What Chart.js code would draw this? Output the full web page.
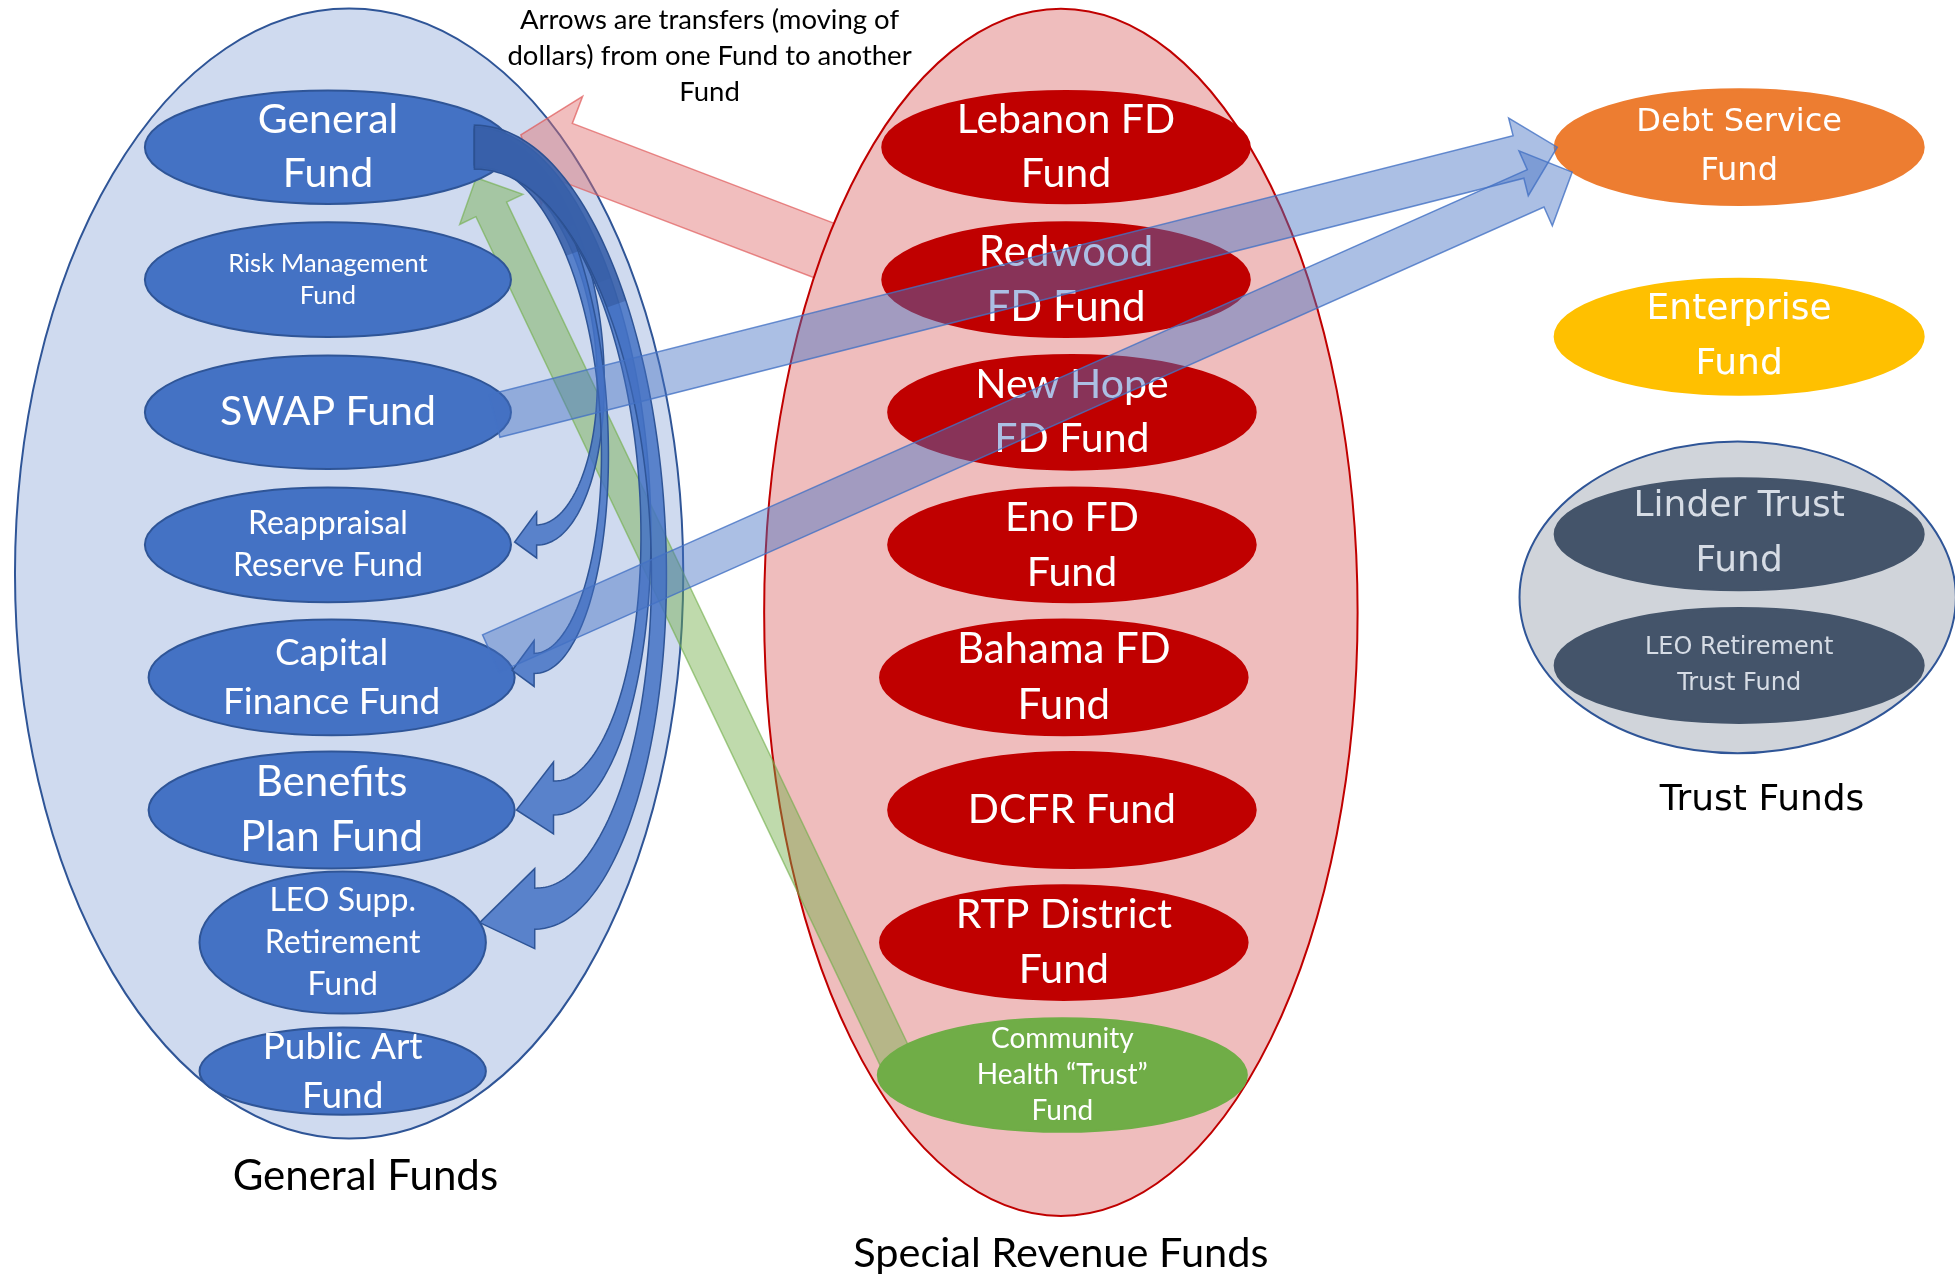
<!DOCTYPE html>
<html>
<head>
<meta charset="utf-8">
<script src="https://cdn.jsdelivr.net/npm/chart.js@4.4.0/dist/chart.umd.min.js"></script>
<style>
  html, body { margin: 0; padding: 0; background: #ffffff; }
  #wrap { width: 1955px; height: 1277px; }
</style>
</head>
<body>
<div id="wrap"><canvas id="funds-chart"></canvas></div>
<script>
// funds as drawn on the slide (\n = line break)
var fundNames = [
  'General\nFund', 'Risk Management\nFund', 'SWAP Fund', 'Reappraisal\nReserve Fund',
  'Capital\nFinance Fund', 'Benefits\nPlan Fund', 'LEO Supp.\nRetirement\nFund', 'Public Art\nFund',
  'Lebanon FD\nFund', 'Redwood\nFD Fund', 'New Hope\nFD Fund', 'Eno FD\nFund',
  'Bahama FD\nFund', 'DCFR Fund', 'RTP District\nFund', 'Community\nHealth \u201CTrust\u201D\nFund',
  'Debt Service\nFund', 'Enterprise\nFund', 'Linder Trust\nFund', 'LEO Retirement\nTrust Fund'
];
var fundType = [
  'general', 'general', 'general', 'general', 'general', 'general', 'general', 'general',
  'special', 'special', 'special', 'special', 'special', 'special', 'special', 'health',
  'debt', 'enterprise', 'trust', 'trust'
];
// column (0 = general, 1 = special revenue, ~1.9 = others) and row in the column
var fundColumn = [0, 0, 0, 0, 0.005, 0.005, 0.02, 0.02,
  1, 1, 1.008, 1.008, 0.997, 1.008, 0.997, 0.995,
  1.912, 1.912, 1.912, 1.912];
var fundRow = [1, 2, 3, 4, 5, 6, 7, 7.97,
  1, 2, 3, 4, 5, 6, 7, 8,
  1, 2.43, 3.92, 4.91];

var groupNames = ['General Funds', 'Special Revenue Funds', 'Trust Funds'];
var groupColumn = [0.0287, 0.993, 1.91];
var groupRow = [4.217, 4.509, 4.396];

// transfers (index into fundNames)
var transferFrom = [9, 2, 4, 15, 0, 0, 0, 0];
var transferTo = [0, 16, 16, 0, 3, 4, 5, 6];

var noteLines = ['Arrows are transfers (moving of', 'dollars) from one Fund to another', 'Fund'];

// ---- layout / style ----
var typeStyle = {
  general: { fill: '#4472C4', stroke: '#2F5597', text: '#ffffff', font: 'Lato' },
  special: { fill: '#C00000', stroke: '#C00000', text: '#ffffff', font: 'Lato' },
  health: { fill: '#70AD47', stroke: '#70AD47', text: '#ffffff', font: 'Lato' },
  debt: { fill: '#ED7D31', stroke: '#ED7D31', text: '#ffffff', font: 'DejaVu Sans' },
  enterprise: { fill: '#FFC000', stroke: '#FFC000', text: '#ffffff', font: 'DejaVu Sans' },
  trust: { fill: '#44546A', stroke: '#44546A', text: '#D6DCE5', font: 'DejaVu Sans' }
};
// rx (column units), ry (row units), font px, line height px
var nodeSize = [
  [0.248, 0.428, 41, 54], [0.248, 0.433, 25.5, 32], [0.248, 0.428, 41, 54], [0.248, 0.433, 32, 42],
  [0.248, 0.437, 37, 49], [0.248, 0.442, 42, 55], [0.194, 0.536, 32, 42], [0.194, 0.329, 37, 49],
  [0.249, 0.423, 41, 54], [0.249, 0.433, 42, 55], [0.249, 0.433, 41, 54], [0.249, 0.433, 41, 55],
  [0.249, 0.437, 42, 56], [0.249, 0.437, 41, 54], [0.249, 0.433, 41, 55], [0.25, 0.428, 28, 36],
  [0.25, 0.437, 32, 49], [0.25, 0.437, 36, 55], [0.25, 0.423, 36, 55], [0.25, 0.433, 24, 36]
];
var groupStyle = [
  { rx: 0.4527, ry: 4.262, fill: '#CFDAEF', stroke: '#2F5597', font: 'Lato', size: 42, col: 0.0507, row: 8.761 },
  { rx: 0.402, ry: 4.553, fill: '#EFBDBD', stroke: '#C00000', font: 'Lato', size: 41.5, col: 0.993, row: 9.344 },
  { rx: 0.2956, ry: 1.176, fill: '#D0D4DA', stroke: '#2F5597', font: 'DejaVu Sans', size: 36, col: 1.943, row: 5.929 }
];
var arrowStyle = [
  { kind: 'line', tail: [-0.9, 0], tip: [1.054, -0.217], w: 58, hw: 116, hl: 44,
    fill: 'rgba(224,110,110,0.45)', stroke: 'rgba(224,90,90,0.7)' },
  { kind: 'line', tail: [0.91, 0.065], tip: [-0.986, 0], w: 44, hw: 80, hl: 40,
    fill: 'rgba(68,114,196,0.45)', stroke: 'rgba(68,114,196,0.8)' },
  { kind: 'line', tail: [0.87, -0.41], tip: [-0.905, 0.43], w: 41, hw: 82, hl: 40,
    fill: 'rgba(68,114,196,0.45)', stroke: 'rgba(68,114,196,0.8)' },
  { kind: 'line', tail: [-0.86, 0], tip: [0.81, 0.54], w: 34, hw: 70, hl: 35,
    fill: 'rgba(112,173,71,0.45)', stroke: 'rgba(112,173,71,0.6)' },
  { kind: 'curve', tail: [0.8, 0], tip: [1.02, -0.05], w0: 34, wm: 7, w1: 20, hw: 46, hl: 22, drop: 7, bulge: 62 },
  { kind: 'curve', tail: [0.8, 0], tip: [0.986, -0.12], w0: 36, wm: 7, w1: 20, hw: 46, hl: 22, drop: 7, bulge: 69 },
  { kind: 'curve', tail: [0.8, 0], tip: [1.01, 0], w0: 40, wm: 10, w1: 34, hw: 72, hl: 37, drop: 12, bulge: 90 },
  { kind: 'curve', tail: [0.8, 0], tip: [0.957, -0.28], w0: 44, wm: 15, w1: 41, hw: 80, hl: 55, drop: 14, bulge: 123 }
];

function nodeAt(chart, i) {
  var pt = chart.getDatasetMeta(0).data[i];
  var xs = chart.scales.x, ys = chart.scales.y;
  return {
    x: pt.x, y: pt.y,
    rx: Math.abs(xs.getPixelForValue(fundColumn[i] + nodeSize[i][0]) - pt.x),
    ry: Math.abs(ys.getPixelForValue(fundRow[i] + nodeSize[i][1]) - pt.y)
  };
}
function anchor(n, off) { return { x: n.x + off[0] * n.rx, y: n.y + off[1] * n.ry }; }

function label(c, text, x, y, font, size, lh, color) {
  var lines = text.split('\n');
  c.font = size + 'px "' + font + '"';
  c.fillStyle = color;
  c.textAlign = 'center';
  c.textBaseline = 'middle';
  lines.forEach(function (ln, j) { c.fillText(ln, x, y + (j - (lines.length - 1) / 2) * lh); });
}

function straightArrow(c, a, b, s) {
  var dx = b.x - a.x, dy = b.y - a.y, len = Math.hypot(dx, dy);
  var ux = dx / len, uy = dy / len, nx = -uy, ny = ux;
  var bx = b.x - ux * s.hl, by = b.y - uy * s.hl;
  c.beginPath();
  c.moveTo(a.x + nx * s.w / 2, a.y + ny * s.w / 2);
  c.lineTo(bx + nx * s.w / 2, by + ny * s.w / 2);
  c.lineTo(bx + nx * s.hw / 2, by + ny * s.hw / 2);
  c.lineTo(b.x, b.y);
  c.lineTo(bx - nx * s.hw / 2, by - ny * s.hw / 2);
  c.lineTo(bx - nx * s.w / 2, by - ny * s.w / 2);
  c.lineTo(a.x - nx * s.w / 2, a.y - ny * s.w / 2);
  c.closePath();
  c.fillStyle = s.fill; c.fill();
  c.strokeStyle = s.stroke; c.lineWidth = 1.5; c.stroke();
}

// band of a curved arrow between t0 and t1; thick where it runs flat, thin where it runs upright
function curveBand(a, B, s, t0, t1) {
  var amp = (B.x + s.bulge) - (a.x + B.x) / 2;
  var left = [], right = [];
  for (var k = 0; k <= 120; k++) {
    var t = t0 + (t1 - t0) * k / 120;
    var cx = a.x + (B.x - a.x) * t + amp * Math.sin(Math.PI * t);
    var cy = a.y + (B.y - a.y) * (1 - Math.cos(Math.PI * t)) / 2;
    var tx = (B.x - a.x) + amp * Math.PI * Math.cos(Math.PI * t);
    var ty = (B.y - a.y) * Math.PI * Math.sin(Math.PI * t) / 2;
    var l = Math.hypot(tx, ty), nx = -ty / l, ny = tx / l;
    var we = s.w0 + (s.w1 - s.w0) * t;
    var w = Math.sqrt(Math.pow(we * tx / l, 2) + Math.pow(s.wm * ty / l, 2)) / 2;
    left.push([cx + nx * w, cy + ny * w]);
    right.push([cx - nx * w, cy - ny * w]);
  }
  return { left: left, right: right };
}

function curvedArrow(c, a, tip, s) {
  var B = { x: tip.x + s.hl, y: tip.y - s.drop };
  var band = curveBand(a, B, s, 0, 1);
  c.beginPath();
  c.moveTo(band.left[0][0], band.left[0][1]);
  band.left.forEach(function (p) { c.lineTo(p[0], p[1]); });
  c.lineTo(B.x, B.y - s.hw / 2);
  c.lineTo(tip.x, tip.y);
  c.lineTo(B.x, B.y + s.hw / 2);
  for (var j = band.right.length - 1; j >= 0; j--) c.lineTo(band.right[j][0], band.right[j][1]);
  c.closePath();
  c.fillStyle = 'rgba(68,114,196,0.85)'; c.fill();
  c.strokeStyle = '#2F5597'; c.lineWidth = 1.5; c.stroke();

  // darker shaded back part where the arrow wraps round
  var back = curveBand(a, B, s, 0, 0.3);
  c.beginPath();
  c.moveTo(back.left[0][0], back.left[0][1]);
  back.left.forEach(function (p) { c.lineTo(p[0], p[1]); });
  for (var m = back.right.length - 1; m >= 0; m--) c.lineTo(back.right[m][0], back.right[m][1]);
  c.closePath();
  c.fillStyle = 'rgba(38,70,130,0.35)'; c.fill();
}

var diagram = {
  id: 'diagram',
  afterDraw: function (chart) {
    var c = chart.ctx, xs = chart.scales.x, ys = chart.scales.y;
    var nodes = fundNames.map(function (n, i) { return nodeAt(chart, i); });

    function container(g) {
      var s = groupStyle[g];
      var x = xs.getPixelForValue(groupColumn[g]), y = ys.getPixelForValue(groupRow[g]);
      var rx = Math.abs(xs.getPixelForValue(groupColumn[g] + s.rx) - x);
      var ry = Math.abs(ys.getPixelForValue(groupRow[g] + s.ry) - y);
      c.beginPath();
      c.ellipse(x, y, rx, ry, 0, 0, Math.PI * 2);
      c.fillStyle = s.fill; c.fill();
      c.strokeStyle = s.stroke; c.lineWidth = 2; c.stroke();
    }
    function arrow(k) {
      var s = arrowStyle[k];
      var a = anchor(nodes[transferFrom[k]], s.tail), b = anchor(nodes[transferTo[k]], s.tip);
      if (s.kind === 'curve') curvedArrow(c, a, b, s); else straightArrow(c, a, b, s);
    }

    c.save();
    container(0);
    container(2);
    arrow(0);          // red arrow runs under the special revenue group
    container(1);
    arrow(3);          // green arrow

    nodes.forEach(function (n, i) {
      var st = typeStyle[fundType[i]];
      c.beginPath();
      c.ellipse(n.x, n.y, n.rx, n.ry, 0, 0, Math.PI * 2);
      c.fillStyle = st.fill; c.fill();
      c.strokeStyle = st.stroke; c.lineWidth = 2; c.stroke();
      label(c, fundNames[i], n.x, n.y, st.font, nodeSize[i][2], nodeSize[i][3], st.text);
    });

    for (var k = 4; k < 8; k++) arrow(k);
    arrow(1);
    arrow(2);

    groupNames.forEach(function (g, i) {
      var s = groupStyle[i];
      label(c, g, xs.getPixelForValue(s.col), ys.getPixelForValue(s.row), s.font, s.size, 50, '#000000');
    });
    label(c, noteLines.join('\n'), xs.getPixelForValue(0.517), ys.getPixelForValue(0.031) + 37, 'Lato', 27.5, 36, '#000000');
    c.restore();
  }
};

var chart = new Chart(document.getElementById('funds-chart').getContext('2d'), {
  type: 'scatter',
  data: {
    datasets: [{
      label: 'Funds',
      data: fundNames.map(function (n, i) { return { x: fundColumn[i], y: fundRow[i] }; }),
      pointRadius: 0,
      pointHoverRadius: 0
    }]
  },
  options: {
    responsive: true,
    maintainAspectRatio: false,
    animation: false,
    events: [],
    layout: { padding: 0 },
    plugins: {
      legend: { display: false },
      tooltip: { enabled: false }
    },
    scales: {
      x: { type: 'linear', min: -0.4443, max: 2.2044, display: false },
      y: { type: 'linear', min: -0.110, max: 9.523, reverse: true, display: false }
    }
  },
  plugins: [diagram]
});
</script>
</body>
</html>
